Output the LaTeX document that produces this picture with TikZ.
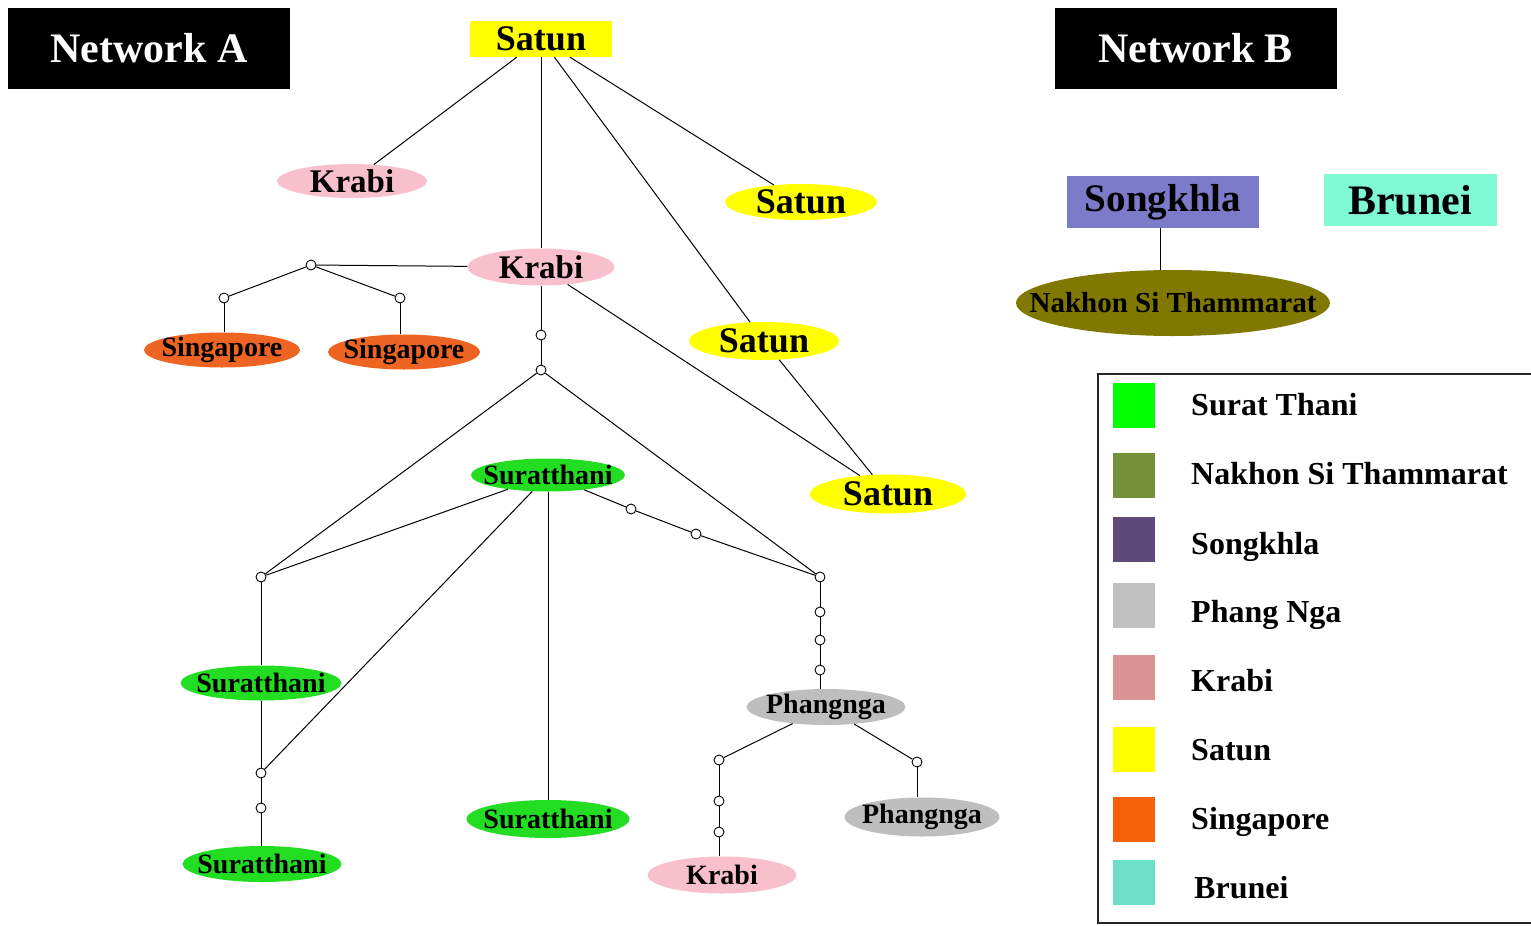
\documentclass[tikz,border=0pt]{standalone}
\usepackage{fontspec}
\setmainfont{Liberation Serif}
\usetikzlibrary{shapes.geometric}

% node fills
\definecolor{satunY}{HTML}{FFFF00}
\definecolor{krabiP}{HTML}{F8C0CC}
\definecolor{singO}{HTML}{EE6422}
\definecolor{suratG}{HTML}{22DD22}
\definecolor{phangG}{HTML}{BEBEBE}
\definecolor{songB}{HTML}{7B7BC9}
\definecolor{bruneiA}{HTML}{7FF8D4}
\definecolor{nakhonO}{HTML}{807800}
% key swatches
\definecolor{lgSurat}{HTML}{00FF00}
\definecolor{lgNakhon}{HTML}{77913B}
\definecolor{lgSong}{HTML}{5E4A78}
\definecolor{lgPhang}{HTML}{C0C0C0}
\definecolor{lgKrabi}{HTML}{DA9494}
\definecolor{lgSatun}{HTML}{FFFF00}
\definecolor{lgSing}{HTML}{F46205}
\definecolor{lgBrunei}{HTML}{6BE0C6}

\newcommand\fsz[1]{\fontsize{#1}{#1}\selectfont\bfseries}

\begin{document}
\begin{tikzpicture}[x=1pt,y=-1pt,
  place/.style={ellipse, inner sep=0pt},
  box/.style={rectangle, inner sep=0pt},
  tag/.style 2 args={label={[font=\fsz{#1}, inner sep=0pt]center:#2}},
  jn/.style={circle, draw, fill=white, minimum size=10pt, inner sep=0pt, line width=0.9pt},
  link/.style={line width=1pt},
  title/.style={rectangle, fill=black, text=white, font=\fsz{42}, minimum width=282pt, minimum height=81pt},
  swatch/.style={rectangle, inner sep=0pt, minimum width=42pt, minimum height=45pt},
  keytext/.style={anchor=base west, font=\fsz{32}, inner sep=0pt}
]
\useasboundingbox (0,0) rectangle (1531,926);

% headings
\node[title] (netA) at (149,48.5) {Network A};
\node[title] (netB) at (1195.5,48.5) {Network B};

% ---- Network A: places ----
\node[box, fill=satunY, minimum width=142pt, minimum height=36pt, tag={36}{Satun}] (satunTop) at (541,39) {};
\node[place, fill=krabiP, minimum width=150pt, minimum height=34pt, tag={33}{Krabi}] (krabiL) at (352,181) {};
\node[place, fill=satunY, minimum width=152pt, minimum height=36pt, tag={36}{Satun}] (satunA) at (801,202) {};
\node[place, fill=krabiP, minimum width=147pt, minimum height=37pt, tag={33}{Krabi}] (krabiM) at (541,267) {};
\node[place, fill=satunY, minimum width=150pt, minimum height=38pt, tag={36}{Satun}] (satunB) at (764,341) {};
\node[place, fill=satunY, minimum width=156pt, minimum height=39pt, tag={36}{Satun}] (satunC) at (888,494) {};
\node[place, fill=singO, minimum width=156pt, minimum height=35pt, tag={28}{Singapore}] (singL) at (222,350) {};
\node[place, fill=singO, minimum width=152pt, minimum height=35pt, tag={28}{Singapore}] (singR) at (404,352) {};
\node[place, fill=suratG, minimum width=154pt, minimum height=33pt, tag={28}{Suratthani}] (suTop) at (548,475) {};
\node[place, fill=suratG, minimum width=161pt, minimum height=35pt, tag={28}{Suratthani}] (suMid) at (261,683) {};
\node[place, fill=suratG, minimum width=159pt, minimum height=36pt, tag={28}{Suratthani}] (suLow) at (262,864) {};
\node[place, fill=suratG, minimum width=163pt, minimum height=38pt, tag={28}{Suratthani}] (suBot) at (548,819) {};
\node[place, fill=phangG, minimum width=159pt, minimum height=36pt, tag={28}{Phangnga}] (phTop) at (826,707) {};
\node[place, fill=phangG, minimum width=155pt, minimum height=39pt, tag={28}{Phangnga}] (phBot) at (922,817) {};
\node[place, fill=krabiP, minimum width=149pt, minimum height=37pt, tag={28}{Krabi}] (krabiB) at (722,875) {};

% ---- Network A: junction points ----
\node[jn] (j1) at (311,265) {};
\node[jn] (j2) at (224,298) {};
\node[jn] (j3) at (400,298) {};
\node[jn] (j4) at (541,335) {};
\node[jn] (j5) at (541,370) {};
\node[jn] (j6) at (261,577) {};
\node[jn] (j7) at (820,577) {};
\node[jn] (j8) at (261,773) {};
\node[jn] (j9) at (261,808) {};
\node[jn] (j10) at (631,509) {};
\node[jn] (j11) at (696,534) {};
\node[jn] (j12) at (820,612) {};
\node[jn] (j13) at (820,640) {};
\node[jn] (j14) at (820,670) {};
\node[jn] (j15) at (719,760) {};
\node[jn] (j16) at (719,801) {};
\node[jn] (j17) at (719,832) {};
\node[jn] (j18) at (917,762) {};

% ---- Network A: links ----
\foreach \a/\b in {satunTop/krabiL, satunTop/krabiM, satunTop/satunA, satunTop/satunB,
  satunB/satunC, krabiM/satunC, krabiM/j1, j1/j2, j1/j3,
  krabiM/j4, j4/j5, j5/j6, j5/j7, j6/suTop, j6/suMid, suMid/j8, suTop/j8,
  j8/j9, suTop/suBot, suTop/j10, j10/j11, j11/j7, j7/j12, j12/j13,
  j13/j14, phTop/j15, j15/j16, j16/j17, phTop/j18}
  \draw[link] (\a) -- (\b);
% straight drops onto the lower places
\draw[link] (j2) -- (j2 |- singL.north);
\draw[link] (j3) -- (j3 |- singR.north);
\draw[link] (j9) -- (j9 |- suLow.north);
\draw[link] (j14) -- (j14 |- phTop.north);
\draw[link] (j17) -- (j17 |- krabiB.north);
\draw[link] (j18) -- (j18 |- phBot.north);

% ---- Network B ----
\node[box, fill=songB, minimum width=192pt, minimum height=52pt, tag={39}{Songkhla}] (songkhla) at (1163,202) {};
\node[box, fill=bruneiA, minimum width=173pt, minimum height=52pt, tag={42}{Brunei}] (brunei) at (1410,200) {};
\node[place, fill=nakhonO, minimum width=314pt, minimum height=66pt, tag={29}{Nakhon Si Thammarat}] (nakhon) at (1173,303) {};
\coordinate (drop) at ([xshift=-3pt]songkhla.south);
\draw[link] (drop) -- (drop |- nakhon.north);

% ---- colour key ----
\draw[line width=1.8pt, draw=black!85] (1098,374) rectangle (1545,923);
\node[swatch, fill=lgSurat]  (k1) at (1134,405) {};
\node[swatch, fill=lgNakhon] (k2) at (1134,475) {};
\node[swatch, fill=lgSong]   (k3) at (1134,539) {};
\node[swatch, fill=lgPhang]  (k4) at (1134,605) {};
\node[swatch, fill=lgKrabi]  (k5) at (1134,677) {};
\node[swatch, fill=lgSatun]  (k6) at (1134,749) {};
\node[swatch, fill=lgSing]   (k7) at (1134,819) {};
\node[swatch, fill=lgBrunei] (k8) at (1134,882) {};
\node[keytext] (t1) at (1191,415) {Surat Thani};
\node[keytext] (t2) at (1191,484) {Nakhon Si Thammarat};
\node[keytext] (t3) at (1191,554) {Songkhla};
\node[keytext] (t4) at (1191,622) {Phang Nga};
\node[keytext] (t5) at (1191,691) {Krabi};
\node[keytext] (t6) at (1191,760) {Satun};
\node[keytext] (t7) at (1191,829) {Singapore};
\node[keytext] (t8) at (1194,898) {Brunei};
\end{tikzpicture}
\end{document}
